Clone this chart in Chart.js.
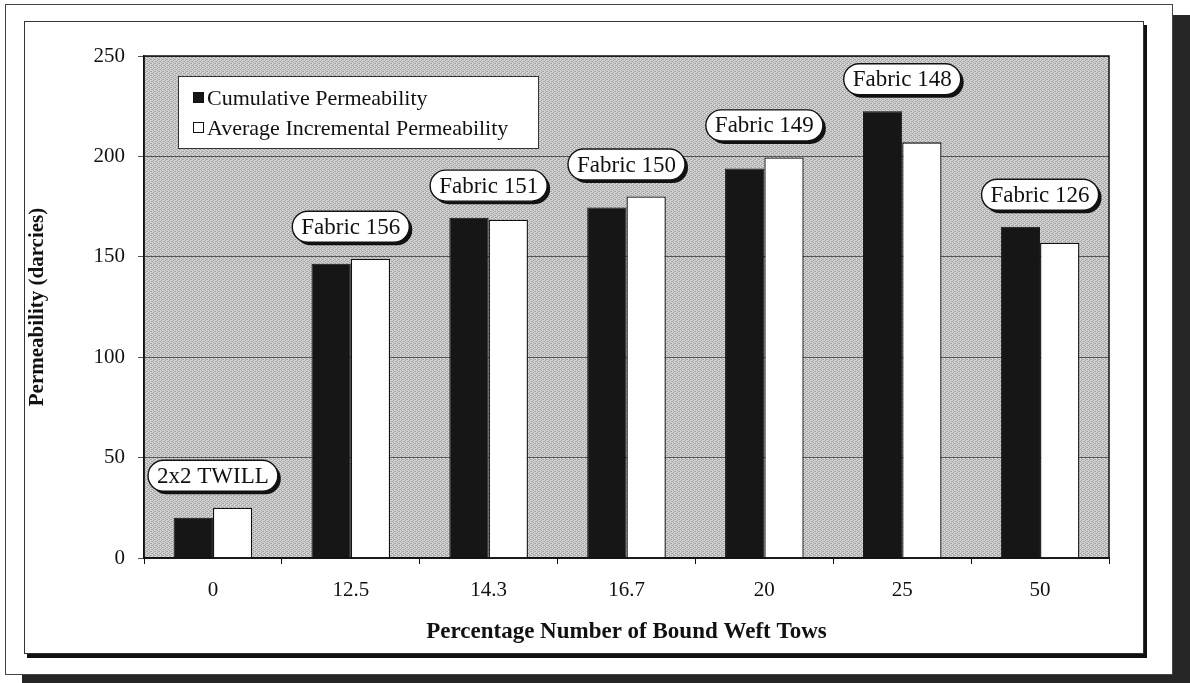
<!DOCTYPE html>
<html lang="en">
<head>
<meta charset="UTF-8">
<title>Permeability vs Bound Weft Tows</title>
<script src="https://cdn.jsdelivr.net/npm/chart.js"></script>
<style>
    html, body { margin: 0; padding: 0; background: #fff; }
    body { width: 1190px; height: 683px; position: relative; overflow: hidden; }
    .outer-frame {
        position: absolute; left: 5px; top: 4px; width: 1166px; height: 669px;
        border: 1px solid #444; box-shadow: 17px 11px 0 #262626; background: #fff;
    }
    .chart-frame {
        position: absolute; left: 24px; top: 21px; width: 1118px; height: 631px;
        border: 1px solid #333; box-shadow: 3px 4px 0 #111; background: #fff;
    }
</style>
</head>
<body>

<div class="outer-frame"></div>
<div class="chart-frame">
    <canvas id="permChart"></canvas>
</div>

<script>
    // data
    const categories = ['0', '12.5', '14.3', '16.7', '20', '25', '50'];
    const cumulative = [20, 146.5, 169.5, 174.5, 194, 222.5, 165];
    const avgIncremental = [25, 149, 168.5, 180, 199.5, 207, 157];
    const fabricNames = ['2x2 TWILL', 'Fabric 156', 'Fabric 151', 'Fabric 150', 'Fabric 149', 'Fabric 148', 'Fabric 126'];
    const yTicks = [0, 50, 100, 150, 200, 250];

    const serif = "'Liberation Serif', 'Times New Roman', serif";

    // dotted grey fill like the old excel plot area
    function makePattern() {
        const c = document.createElement('canvas');
        c.width = 4; c.height = 4;
        const p = c.getContext('2d');
        p.fillStyle = '#d2d2d2';
        p.fillRect(0, 0, 4, 4);
        p.fillStyle = '#a4a4a4';
        [[0, 0], [2, 1], [0, 2], [2, 3], [1, 1], [3, 3]].forEach(([x, y]) => p.fillRect(x, y, 1, 1));
        return p.createPattern(c, 'repeat');
    }

    function pill(ctx, x, y, w, h) {
        const r = h / 2;
        ctx.beginPath();
        ctx.moveTo(x + r, y);
        ctx.lineTo(x + w - r, y);
        ctx.arc(x + w - r, y + r, r, -Math.PI / 2, Math.PI / 2);
        ctx.lineTo(x + r, y + h);
        ctx.arc(x + r, y + r, r, Math.PI / 2, Math.PI * 1.5);
        ctx.closePath();
    }

    const plotBackground = {
        id: 'plotBackground',
        beforeDraw(chart) {
            const { ctx, chartArea: a } = chart;
            ctx.save();
            ctx.fillStyle = makePattern();
            ctx.fillRect(a.left, a.top, a.right - a.left, a.bottom - a.top);
            ctx.restore();
        }
    };

    const extras = {
        id: 'extras',
        afterDraw(chart) {
            const { ctx, chartArea: a } = chart;
            const xs = chart.scales.x, ys = chart.scales.y;
            ctx.save();

            // plot border
            ctx.strokeStyle = '#111';
            ctx.lineWidth = 1.5;
            ctx.strokeRect(a.left, a.top, a.right - a.left, a.bottom - a.top);

            // callouts above each pair
            ctx.font = '23px ' + serif;
            ctx.textAlign = 'center';
            ctx.textBaseline = 'middle';
            fabricNames.forEach((name, i) => {
                const cx = xs.getPixelForValue(i);
                const top = Math.min(ys.getPixelForValue(cumulative[i]), ys.getPixelForValue(avgIncremental[i]));
                const cy = top - 32;
                const w = ctx.measureText(name).width + 18;
                const h = 31;
                pill(ctx, cx - w / 2 + 3, cy - h / 2 + 3, w, h);
                ctx.fillStyle = '#111';
                ctx.fill();
                pill(ctx, cx - w / 2, cy - h / 2, w, h);
                ctx.fillStyle = '#fff';
                ctx.fill();
                ctx.lineWidth = 1.4;
                ctx.strokeStyle = '#111';
                ctx.stroke();
                ctx.fillStyle = '#111';
                ctx.fillText(name, cx, cy + 1);
            });

            // legend box inside plot
            const lx = a.left + 34, ly = a.top + 20, lw = 360, lh = 72;
            ctx.fillStyle = '#fff';
            ctx.fillRect(lx, ly, lw, lh);
            ctx.lineWidth = 1;
            ctx.strokeStyle = '#333';
            ctx.strokeRect(lx + 0.5, ly + 0.5, lw, lh);
            ctx.textAlign = 'left';
            ctx.font = '22px ' + serif;
            chart.data.datasets.forEach((ds, i) => {
                const rowY = ly + 22 + i * 30;
                ctx.fillStyle = ds.backgroundColor;
                ctx.fillRect(lx + 15, rowY - 6, 11, 11);
                ctx.strokeStyle = '#111';
                ctx.lineWidth = 1;
                ctx.strokeRect(lx + 15.5, rowY - 5.5, 10, 10);
                ctx.fillStyle = '#111';
                ctx.fillText(ds.label, lx + 29, rowY + 1);
            });
            ctx.restore();
        }
    };

    const ctx = document.getElementById('permChart').getContext('2d');
    new Chart(ctx, {
        type: 'bar',
        data: {
            labels: categories,
            datasets: [{
                label: 'Cumulative Permeability',
                data: cumulative,
                backgroundColor: '#161616',
                borderColor: '#111',
                borderWidth: 1
            }, {
                label: 'Average Incremental Permeability',
                data: avgIncremental,
                backgroundColor: '#ffffff',
                borderColor: '#111',
                borderWidth: 1.3
            }]
        },
        options: {
            responsive: true,
            maintainAspectRatio: false,
            animation: false,
            layout: { padding: { left: 0, top: 34, right: 34, bottom: 0 } },
            plugins: {
                legend: { display: false },
                tooltip: { enabled: false }
            },
            datasets: {
                bar: { categoryPercentage: 0.57, barPercentage: 1.0 }
            },
            scales: {
                x: {
                    grid: { display: true, drawOnChartArea: false, offset: true, tickLength: 6, color: '#111' },
                    border: { display: true, color: '#111', width: 1.5 },
                    ticks: { color: '#111', font: { family: serif, size: 21 }, padding: 14 },
                    title: {
                        display: true,
                        text: 'Percentage Number of Bound Weft Tows',
                        color: '#111',
                        font: { family: serif, size: 23, weight: 'bold' },
                        padding: { top: 0, bottom: 7 }
                    },
                    afterFit(scale) { scale.height = 95; }
                },
                y: {
                    min: 0,
                    max: 250,
                    afterBuildTicks(scale) { scale.ticks = yTicks.map(v => ({ value: v })); },
                    grid: { color: '#555', lineWidth: 1, tickLength: 6 },
                    border: { display: true, color: '#111', width: 1.5 },
                    ticks: { color: '#111', font: { family: serif, size: 21 }, padding: 13 },
                    title: {
                        display: true,
                        text: 'Permeability (darcies)',
                        color: '#111',
                        font: { family: serif, size: 21, weight: 'bold' },
                        padding: { top: 0, bottom: 0 }
                    },
                    afterFit(scale) { scale.width = 119; }
                }
            }
        },
        plugins: [plotBackground, extras]
    });
</script>
</body>
</html>
